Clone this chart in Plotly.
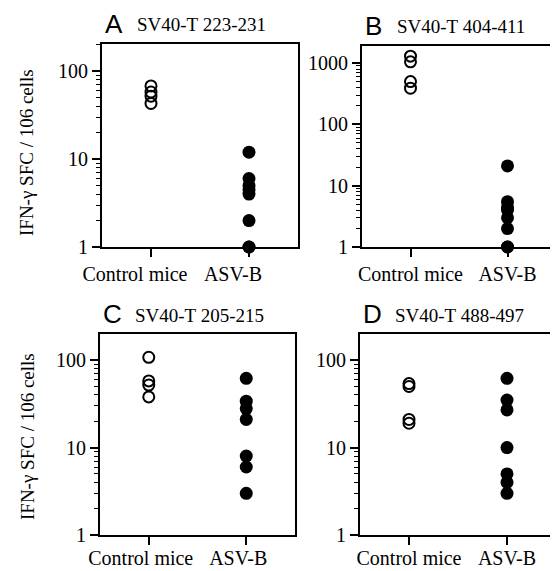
import plotly.graph_objects as go

categories = ["Control mice", "ASV-B"]

panel_letters = ["A", "B", "C", "D"]
panel_titles = ["SV40-T 223-231", "SV40-T 404-411", "SV40-T 205-215", "SV40-T 488-497"]

control_A = [68, 58, 52, 43]
asvb_A = [12, 6, 5, 4.5, 4, 2, 1, 1]
control_B = [1300, 1050, 500, 390]
asvb_B = [21, 5.5, 4.5, 4, 3, 2, 1, 1]
control_C = [108, 58, 52, 38]
asvb_C = [62, 34, 28, 21, 8, 6, 3]
control_D = [54, 50, 21, 19]
asvb_D = [62, 35, 27, 10, 5, 4, 3]

ytick_vals_3 = [1, 10, 100]
ytick_text_3 = ["1", "10", "100"]
ytick_vals_4 = [1, 10, 100, 1000]
ytick_text_4 = ["1", "10", "100", "1000"]

y_title = "IFN-γ SFC / 106 cells"

# the page body has an 8px margin, so the figure is drawn 8px in from the window corner
OFF = 8
W, H = 558 - OFF, 571 - OFF


def fx(px):
    return (px - OFF) / W


def fy(py):
    return 1 - (py - OFF) / H


# panel boxes in window pixels: (left, right, top, bottom)
boxes = [(102, 298, 44, 247), (362, 556, 46, 247), (100, 295, 334, 535), (360, 556, 334, 535)]
yranges = [[0, 2.31], [0, 3.28], [0, 2.3], [0, 2.3]]
label_shift = [-16, 0, -8, 0]
label_standoff = [0, 0, -4, -4]
ytitle_centers = [153, None, 437, None]

controls = [control_A, control_B, control_C, control_D]
asvbs = [asvb_A, asvb_B, asvb_C, asvb_D]

fig = go.Figure()
serif = "Liberation Serif"
sans = "Liberation Sans"

for i in range(4):
    ax = "" if i == 0 else str(i + 1)
    l, r, t, b = boxes[i]
    fig.add_trace(go.Scatter(
        x=[categories[0]] * len(controls[i]), y=controls[i],
        mode="markers", xaxis="x" + ax, yaxis="y" + ax, cliponaxis=False,
        marker=dict(symbol="circle-open", size=11, color="black", line=dict(width=2, color="black")),
        showlegend=False))
    fig.add_trace(go.Scatter(
        x=[categories[1]] * len(asvbs[i]), y=asvbs[i],
        mode="markers", xaxis="x" + ax, yaxis="y" + ax, cliponaxis=False,
        marker=dict(symbol="circle", size=13, color="black", line=dict(width=0)),
        showlegend=False))
    tv = ytick_vals_4 if i == 1 else ytick_vals_3
    tt = ytick_text_4 if i == 1 else ytick_text_3
    fig.layout["xaxis" + ax] = dict(
        domain=[fx(l), fx(r)], anchor="y" + ax, type="category", automargin=False,
        categoryorder="array", categoryarray=categories, range=[-0.5, 1.5],
        showline=True, linewidth=2, linecolor="black", mirror=True,
        ticks="outside", ticklen=8, tickwidth=1.5, tickcolor="black",
        showgrid=False, zeroline=False,
        tickfont=dict(family=serif, size=20, color="black"),
        ticklabelshift=label_shift[i], ticklabelstandoff=label_standoff[i])
    fig.layout["yaxis" + ax] = dict(
        domain=[fy(b), fy(t)], anchor="x" + ax, type="log", automargin=False,
        range=yranges[i], tickvals=tv, ticktext=tt,
        showline=True, linewidth=2, linecolor="black", mirror=True,
        ticks="outside", ticklen=8, tickwidth=1.5, tickcolor="black",
        minor=dict(ticks="outside", ticklen=4, tickwidth=1, tickcolor="black", dtick="D1", showgrid=False),
        showgrid=False, zeroline=False,
        tickfont=dict(family=serif, size=20, color="black"))
    if ytitle_centers[i] is not None:
        fig.add_annotation(text=y_title, xref="paper", yref="paper", textangle=-90,
                           x=fx(27), y=fy(ytitle_centers[i]), xanchor="center", yanchor="middle",
                           showarrow=False, font=dict(family=serif, size=19, color="black"))

    fig.add_annotation(text=panel_letters[i], xref="paper", yref="paper",
                       x=fx(l + 1), y=fy(t - 20), xanchor="left", yanchor="middle",
                       showarrow=False, font=dict(family=sans, size=26, color="black"))
    fig.add_annotation(text=panel_titles[i], xref="paper", yref="paper",
                       x=fx(l + 33), y=fy(t - 19), xanchor="left", yanchor="middle",
                       showarrow=False, font=dict(family=serif, size=19, color="black"))

fig.update_layout(width=W, height=H, margin=dict(l=0, r=0, t=0, b=0),
                  font=dict(family=serif, size=20, color="black"),
                  paper_bgcolor="white", plot_bgcolor="white")
fig.write_html("out.html")
